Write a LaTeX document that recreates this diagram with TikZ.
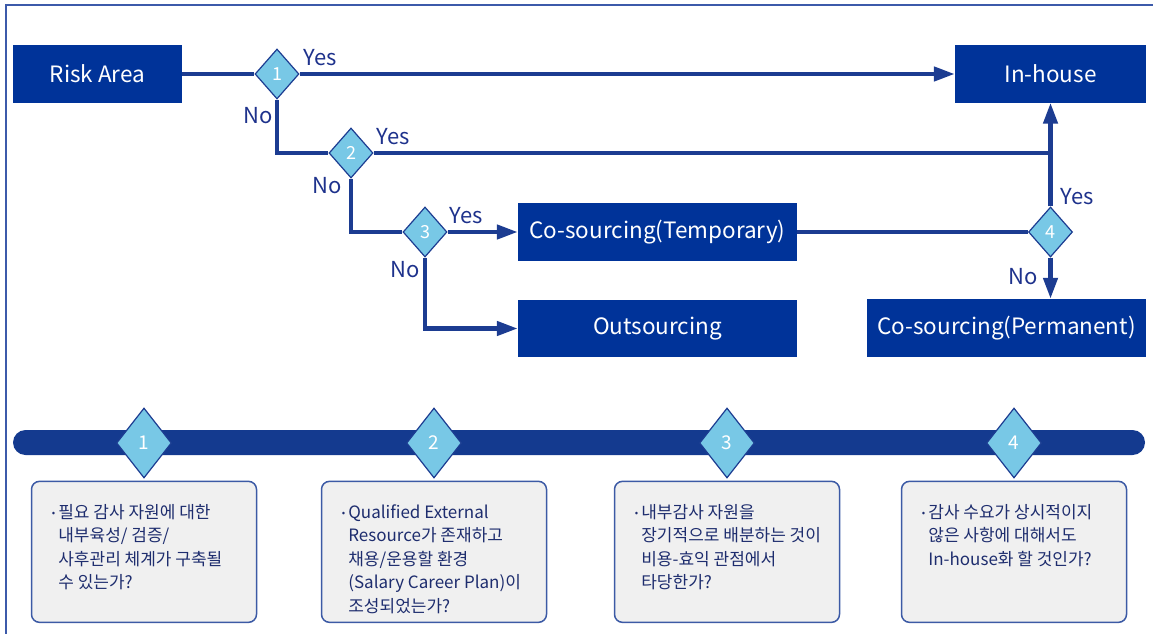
\documentclass[tikz,border=0pt]{standalone}
\usepackage{fontspec}
\setmainfont{Noto Sans CJK KR}
\usetikzlibrary{shapes.geometric,arrows.meta,positioning}

\definecolor{boxblue}{RGB}{0,51,153}
\definecolor{lineblue}{RGB}{28,60,145}
\definecolor{diafill}{RGB}{120,200,230}
\definecolor{barblue}{RGB}{20,58,143}
\definecolor{labelblue}{RGB}{30,50,140}
\definecolor{qfill}{RGB}{240,240,240}
\definecolor{qborder}{RGB}{60,90,165}
\definecolor{qnavy}{RGB}{30,45,110}
\definecolor{framec}{RGB}{60,90,170}

\newcommand{\qlines}[1]{\begin{tabular}{@{}l@{\hspace{3pt}}l@{}}#1\end{tabular}}
\newcommand{\qdot}{\raisebox{2pt}{\fontsize{10}{10}\selectfont •}}

\begin{document}
\begin{tikzpicture}[x=1pt,y=-1pt,>={Triangle[length=21pt,width=14pt]},
    outcome/.style={rectangle,fill=boxblue,text=white,font=\fontsize{22.5}{26}\selectfont,minimum height=57pt,inner sep=0pt},
    check/.style={diamond,draw=lineblue,line width=1.2pt,fill=diafill,text=white,font=\fontsize{18}{20}\selectfont,minimum width=44pt,minimum height=50pt,inner sep=0pt},
    flow/.style={draw=lineblue,line width=4.5pt},
    answer/.style={text=labelblue,font=\fontsize{22}{24}\selectfont,inner sep=0pt},
    qbox/.style={rectangle,rounded corners=8pt,draw=qborder,line width=1.5pt,fill=qfill,minimum width=225pt,minimum height=141pt},
    qtext/.style={text=qnavy,font=\fontsize{17}{23.5}\selectfont,align=left,inner sep=0pt}]

    \useasboundingbox (0,0) rectangle (1153,634);
    \draw[framec, line width=1.5pt] (6,634) -- (6,5) -- (1153,5);

    % decision flow
    \node[outcome, minimum width=169pt] (risk) at (97.5,74) {Risk Area};
    \node[outcome, minimum width=191pt] (inh) at (1050.5,74) {In-house};
    \node[outcome, minimum width=279pt, minimum height=58pt] (temp) at (657.5,232) {Co-sourcing(Temporary)};
    \node[outcome, minimum width=279pt] (out) at (657.5,328.5) {Outsourcing};
    \node[outcome, minimum width=279pt, minimum height=58pt] (perm) at (1006.5,328) {Co-sourcing(Permanent)};

    \node[check] (d1) at (277,74) {1};
    \node[check] (d2) at (351,153) {2};
    \node[check] (d3) at (425,232) {3};
    \node[check] (d4) at (1050.5,232) {4};

    \node[answer] (y1) at (320,58) {Yes};
    \node[answer] (n1) at (258,116) {No};
    \node[answer] (y2) at (393,137) {Yes};
    \node[answer] (n2) at (327,186) {No};
    \node[answer] (y3) at (466,216) {Yes};
    \node[answer] (n3) at (405,270) {No};
    \node[answer] (y4) at (1077,197) {Yes};
    \node[answer] (n4) at (1023,277) {No};

    \draw[flow] (risk) -- (d1);
    \draw[flow,->] (d1) -- (inh);
    \draw[flow] (d1.south) |- (d2.west);
    \draw[flow] (d2.east) -- (d2.east -| inh.south);
    \draw[flow] (d2.south) |- (d3.west);
    \draw[flow,->] (d3.east) -- (temp.west);
    \draw[flow,->] (d3.south) |- (out.west);
    \draw[flow] (temp.east) -- (d4.west);
    \draw[flow,->] (d4.north) -- (inh.south);
    \draw[flow,->] (d4.south) -- (d4.south |- perm.north);

    % criteria
    \node[rectangle, rounded corners=12.5pt, fill=barblue, minimum width=1132pt, minimum height=25pt, inner sep=0pt] (bar) at (579,442.5) {};

    \node[check, minimum width=55pt, minimum height=70pt, font=\fontsize{19}{21}\selectfont] (k1) at (144,443) {1};
    \node[check, minimum width=55pt, minimum height=70pt, font=\fontsize{19}{21}\selectfont] (k2) at (434,443) {2};
    \node[check, minimum width=55pt, minimum height=70pt, font=\fontsize{19}{21}\selectfont] (k3) at (727,443) {3};
    \node[check, minimum width=55pt, minimum height=70pt, font=\fontsize{19}{21}\selectfont] (k4) at (1014,443) {4};

    \node[qbox, below=2pt of k1] (q1) {};
    \node[qbox, below=2pt of k2] (q2) {};
    \node[qbox, below=2pt of k3] (q3) {};
    \node[qbox, below=2pt of k4] (q4) {};

    \node[qtext, below right=21pt and 21pt of q1.north west] (t1) {\qlines{\qdot & 필요 감사 자원에 대한\\ & 내부육성/ 검증/\\ & 사후관리 체계가 구축될\\ & 수 있는가?}};
    \node[qtext, below right=21pt and 21pt of q2.north west] (t2) {\qlines{\qdot & Qualified External\\ & Resource가 존재하고\\ & 채용/운용할 환경\\ & (Salary Career Plan)이\\ & 조성되었는가?}};
    \node[qtext, below right=21pt and 21pt of q3.north west] (t3) {\qlines{\qdot & 내부감사 자원을\\ & 장기적으로 배분하는 것이\\ & 비용-효익 관점에서\\ & 타당한가?}};
    \node[qtext, below right=21pt and 21pt of q4.north west] (t4) {\qlines{\qdot & 감사 수요가 상시적이지\\ & 않은 사항에 대해서도\\ & In-house화 할 것인가?}};
\end{tikzpicture}
\end{document}
